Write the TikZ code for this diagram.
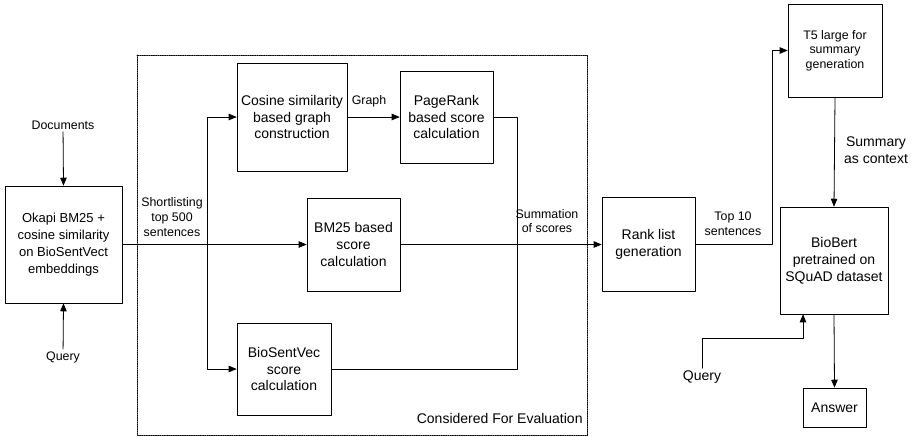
\documentclass[tikz,border=0pt]{standalone}
\usepackage{fontspec}
\setmainfont{Liberation Sans}
\usepackage{tikz}
\usetikzlibrary{arrows}

\tikzset{
  box/.style={draw, line width=0.8pt, align=center, inner sep=2pt, font=\fontsize{14}{16.8}\selectfont},
  lbl/.style={align=center, inner sep=2pt, font=\fontsize{12.4}{14.6}\selectfont},
  lblbig/.style={align=center, inner sep=2pt, font=\fontsize{14}{16.8}\selectfont}
}

\begin{document}
\begin{tikzpicture}[line cap=round,line join=round,>=triangle 45,x=1pt,y=-1pt,line width=0.8pt]
\useasboundingbox (0,0) rectangle (912,436);

\draw [densely dotted] (137,55) rectangle (587,435);
\node [lblbig, anchor=east] (evalnote) at (585,418) {Considered For Evaluation};

\node [box, minimum width=117pt, minimum height=117pt, font=\fontsize{13}{16.8}\selectfont] (okapi) at (63.5,244.5) {Okapi BM25 +\\cosine similarity\\on BioSentVect\\embeddings};
\node [lbl] (docs) at (63,125) {Documents};
\node [lbl] (query) at (63,357) {Query};

\node [box, minimum width=110pt, minimum height=108pt] (cosine) at (292,117) {Cosine similarity\\based graph\\construction};
\node [box, minimum width=93pt, minimum height=92pt] (pagerank) at (446.5,117) {PageRank\\based score\\calculation};
\node [box, minimum width=93pt, minimum height=93pt] (bm25) at (353.5,244.5) {BM25 based\\score\\calculation};
\node [box, minimum width=94pt, minimum height=92pt] (biosent) at (284,369) {BioSentVec\\score\\calculation};
\node [box, minimum width=93pt, minimum height=94pt] (rank) at (648.5,244.5) {Rank list\\generation};
\node [box, minimum width=94pt, minimum height=93pt, font=\fontsize{12.4}{14.6}\selectfont] (t5) at (835,50.5) {T5 large for\\summary\\generation};
\node [box, minimum width=108pt, minimum height=107pt] (biobert) at (834,260.5) {BioBert\\pretrained on\\SQuAD dataset};
\node [box, minimum width=63pt, minimum height=39pt] (answer) at (834.5,407.5) {Answer};
\node [lblbig] (query2) at (702,377) {Query};

\node [lbl] (shortlist) at (172,217) {Shortlisting\\top 500\\sentences};
\node [lbl] (graphlbl) at (369,101) {Graph};
\node [lbl] (sumlbl) at (547,221) {Summation\\of scores};
\node [lbl] (toplbl) at (733,224) {Top 10\\sentences};
\node [lblbig] (ctxlbl) at (876,150) {Summary\\as context};

\coordinate (split) at (207,244.5);
\coordinate (merge) at (517,244.5);
\coordinate (hop) at (772,244.5);
\coordinate (qbend) at (803,338);

\draw [->] (docs) -- (okapi.north);
\draw [->] (query) -- (okapi.south);
\draw [->] (okapi.east) -- (bm25.west);
\draw [->] (split) |- (cosine.west);
\draw [->] (split) |- (biosent.west);
\draw [->] (cosine.east) -- (pagerank.west);
\draw (pagerank.east) -| (merge);
\draw (biosent.east) -| (merge);
\draw [->] (bm25.east) -- (rank.west);
\draw [->] (rank.east) -- (hop) |- (t5.west);
\draw [->] (t5.south) -- (biobert.north);
\draw [->] (query2.north) |- (qbend) -- (qbend |- biobert.south);
\draw [->] (biobert.south) -- (answer.north);
\end{tikzpicture}
\end{document}
